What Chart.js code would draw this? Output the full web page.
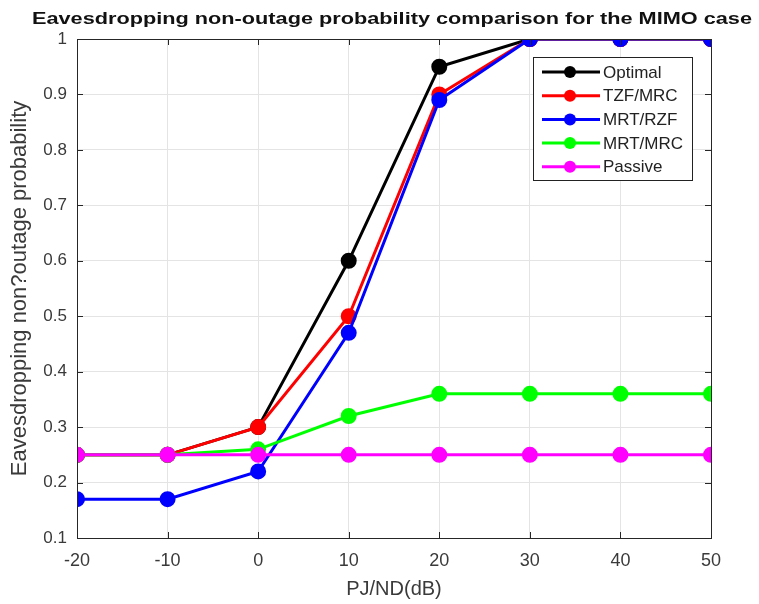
<!DOCTYPE html>
<html>
<head>
<meta charset="utf-8">
<script src="https://cdn.jsdelivr.net/npm/chart.js@4"></script>
<style>
  html, body { margin: 0; padding: 0; background: #fff; }
  #wrap { width: 759px; height: 604px; }
</style>
</head>
<body>
<div id="wrap"><canvas id="myChart" width="759" height="604"></canvas></div>
<script>
const xValues = [-20, -10, 0, 10, 20, 30, 40, 50];
const seriesNames = ['Optimal', 'TZF/MRC', 'MRT/RZF', 'MRT/MRC', 'Passive'];
const optimal = [0.25, 0.25, 0.30, 0.60, 0.95, 1.00, 1.00, 1.00];
const tzfMrc  = [0.25, 0.25, 0.30, 0.50, 0.90, 1.00, 1.00, 1.00];
const mrtRzf  = [0.17, 0.17, 0.22, 0.47, 0.89, 1.00, 1.00, 1.00];
const mrtMrc  = [0.25, 0.25, 0.26, 0.32, 0.36, 0.36, 0.36, 0.36];
const passive = [0.25, 0.25, 0.25, 0.25, 0.25, 0.25, 0.25, 0.25];
const colors = ['#000000', '#ff0000', '#0000ff', '#00ff00', '#ff00ff'];
const titleText = 'Eavesdropping non-outage probability comparison for the MIMO case';

const allSeries = [optimal, tzfMrc, mrtRzf, mrtMrc, passive];
const font = "'Liberation Sans', Arial, sans-serif";

const datasets = allSeries.map((vals, i) => ({
  label: seriesNames[i],
  data: xValues.map((x, j) => ({ x: x, y: vals[j] })),
  borderColor: colors[i],
  backgroundColor: colors[i],
  borderWidth: 3,
  pointRadius: 6.5,
  pointHoverRadius: 6.5,
  order: 5 - i
}));

// axes box with inward ticks, plus the (wide) title
const boxPlugin = {
  id: 'box',
  afterDatasetsDraw(chart) {
    const a = chart.chartArea, c = chart.ctx;
    const xs = chart.scales.x, ys = chart.scales.y;
    c.save();
    c.strokeStyle = '#262626';
    c.lineWidth = 1;
    c.beginPath();
    xs.ticks.forEach(t => {
      const px = Math.round(xs.getPixelForValue(t.value)) + 0.5;
      c.moveTo(px, a.bottom); c.lineTo(px, a.bottom - 6);
      c.moveTo(px, a.top); c.lineTo(px, a.top + 6);
    });
    ys.ticks.forEach(t => {
      const py = Math.round(ys.getPixelForValue(t.value)) + 0.5;
      c.moveTo(a.left, py); c.lineTo(a.left + 6, py);
      c.moveTo(a.right, py); c.lineTo(a.right - 6, py);
    });
    c.stroke();
    c.strokeRect(Math.round(a.left) + 0.5, Math.round(a.top) + 0.5,
      Math.round(a.right - a.left), Math.round(a.bottom - a.top));
    c.restore();
  },
  afterDraw(chart) {
    const c = chart.ctx;
    c.save();
    c.font = 'bold 17px ' + font;
    c.fillStyle = '#111';
    c.textBaseline = 'middle';
    const w = c.measureText(titleText).width;
    c.translate(32, 19);
    c.scale(720 / w, 1);
    c.fillText(titleText, 0, 0);
    c.restore();
  }
};

const legendPlugin = {
  id: 'boxLegend',
  afterDraw(chart) {
    const a = chart.chartArea, c = chart.ctx;
    const x0 = Math.round(a.right) - 178, y0 = Math.round(a.top) + 18, w = 159, h = 123;
    c.save();
    c.fillStyle = '#fff';
    c.fillRect(x0, y0, w, h);
    c.strokeStyle = '#222';
    c.lineWidth = 1;
    c.strokeRect(x0 + 0.5, y0 + 0.5, w, h);
    c.font = '17px ' + font;
    c.textBaseline = 'middle';
    seriesNames.forEach((name, i) => {
      const y = y0 + 15 + i * 23.7;
      c.strokeStyle = colors[i];
      c.lineWidth = 3;
      c.beginPath();
      c.moveTo(x0 + 9, y);
      c.lineTo(x0 + 67, y);
      c.stroke();
      c.fillStyle = colors[i];
      c.beginPath();
      c.arc(x0 + 37, y, 6, 0, Math.PI * 2);
      c.fill();
      c.fillStyle = '#222';
      c.fillText(name, x0 + 70, y + 1);
    });
    c.restore();
  }
};

new Chart(document.getElementById('myChart'), {
  type: 'line',
  data: { datasets: datasets },
  options: {
    responsive: false,
    animation: false,
    layout: { padding: { left: 0, right: 48, top: 39, bottom: 0 } },
    plugins: {
      legend: { display: false },
      tooltip: { enabled: false },
      title: { display: false }
    },
    scales: {
      x: {
        type: 'linear',
        min: -20, max: 50,
        ticks: { stepSize: 10, color: '#3a3a3a', font: { family: font, size: 18 }, padding: 12 },
        grid: { color: '#e4e4e4', tickLength: 0 },
        border: { display: false },
        title: { display: true, text: 'PJ/ND(dB)', color: '#3a3a3a', font: { family: font, size: 20 }, padding: { top: 4, bottom: 3 } },
        afterFit(scale) { scale.height = 66; }
      },
      y: {
        min: 0.1, max: 1,
        ticks: {
          stepSize: 0.1, color: '#3a3a3a', font: { family: font, size: 17 }, padding: 10,
          callback: v => Number(v.toFixed(1)).toString()
        },
        grid: { color: '#e4e4e4', tickLength: 0 },
        border: { display: false },
        title: { display: true, text: 'Eavesdropping non?outage probability', color: '#3a3a3a', font: { family: font, size: 22 }, padding: { top: 7, bottom: 0 } },
        afterFit(scale) { scale.width = 77; }
      }
    }
  },
  plugins: [boxPlugin, legendPlugin]
});
</script>
</body>
</html>
